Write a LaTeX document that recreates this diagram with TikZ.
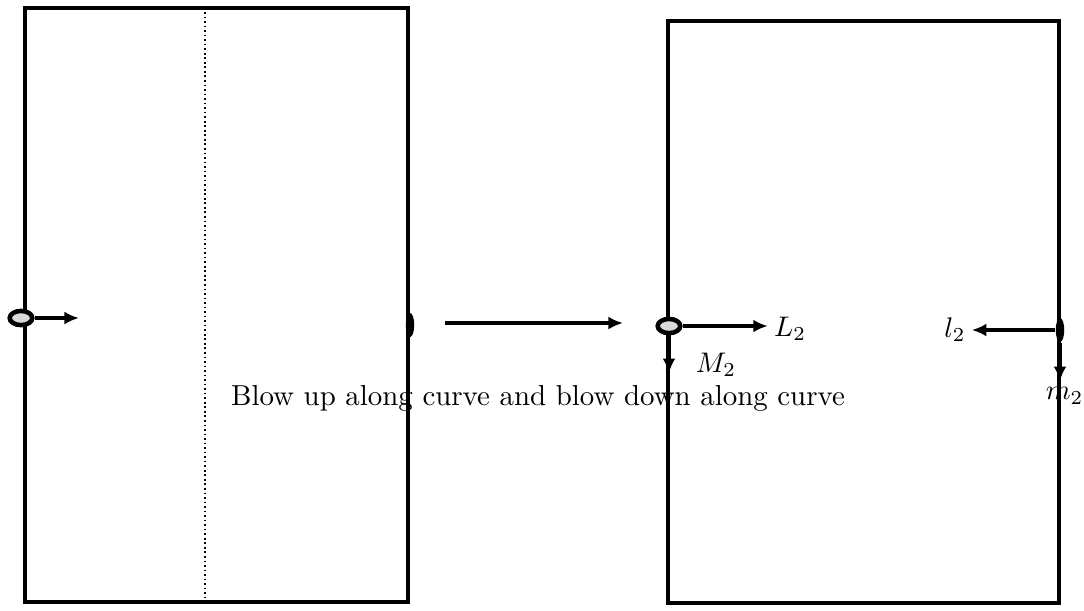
\documentclass[tikz,border=0pt]{standalone}
\usepackage{amsmath}
\usepackage{tikz}
\usetikzlibrary{arrows.meta,positioning,shapes.geometric}

\begin{document}
\begin{tikzpicture}[
    x=0.0124cm, y=-0.0124cm,
    font=\fontsize{10.2}{12}\selectfont,
    frame/.style={line width=1.3pt},
    divider/.style={densely dotted, line width=0.6pt},
    blowpt/.style={
        draw,
        ellipse,
        line width=1.6pt,
        fill=black!15,
        minimum width=8pt,
        minimum height=5pt,
        inner sep=0pt
    },
    downpt/.style={
        ellipse,
        fill=black,
        minimum width=3pt,
        minimum height=8.5pt,
        inner sep=0pt
    },
    lbl/.style={inner sep=2pt},
    arrow/.style={-{Latex[length=1.8mm,width=1.6mm]}, line width=1.1pt}
]
\useasboundingbox (0,0) rectangle (1084,610);

% Left surface
\draw[frame] (25,8) rectangle (408,602);
\draw[divider] (205,12) -- (205,602);

\node[blowpt] (pt1) at (21,318) {};
\coordinate (pt1end) at (79,318);
\node[downpt] (star1) at (410,325) {};

% The map between the two pictures
\coordinate (mapfrom) at (445,323);
\coordinate (mapto) at (623,323);

% Right surface
\draw[frame] (668,21) rectangle (1059,603);

\node[blowpt] (pt2) at (669,326) {};
\node[lbl] (L2) at (790,329) {$L_2$};
\coordinate (M2end) at (669,373);
\node[lbl] (M2) at (716,365) {$M_2$};

\node[downpt] (star2) at (1060,330) {};
\node[lbl] (l2) at (955,330) {$l_2$};
\coordinate (m2end) at (1060,381);
\node[inner sep=0pt, anchor=east] (m2) at (1084,396) {$m_2$};

\node (caption) at (538,398) {Blow up along curve and blow down along curve};

% Arrows
\draw[arrow] (pt1) -- (pt1end);
\draw[arrow] (mapfrom) -- (mapto);
\draw[arrow] (pt2) -- (pt2 -| L2.west);
\draw[arrow] (pt2) -- (M2end);
\draw[arrow] (star2) -- (star2 -| l2.east);
\draw[arrow] (star2) -- (m2end);

\end{tikzpicture}
\end{document}
